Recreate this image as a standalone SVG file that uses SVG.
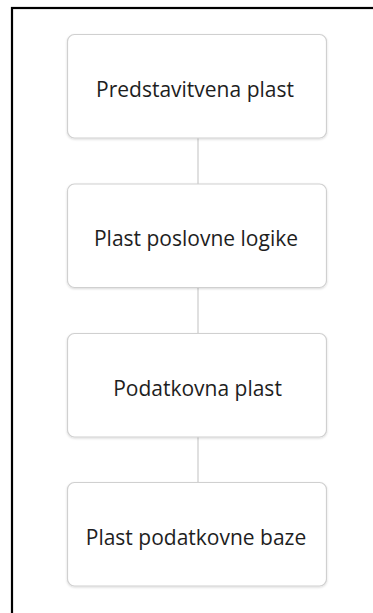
<svg xmlns="http://www.w3.org/2000/svg" width="373" height="613" viewBox="0 0 373 613">
<defs>
<style>
.box{fill:#ffffff;stroke:#d0d0d0;stroke-width:1.2;filter:url(#sh)}
.lbl{font-family:"Open Sans","Liberation Sans",sans-serif;font-size:21px;fill:#1e1e1e;text-anchor:middle}
.conn{stroke:#cccccc;stroke-width:1.2;fill:none}
</style>
<filter id="sh" x="-10%" y="-10%" width="120%" height="130%">
<feDropShadow dx="0" dy="1" stdDeviation="1.2" flood-color="#000" flood-opacity="0.15"/>
</filter>
</defs>
<rect x="0" y="0" width="373" height="613" fill="#ffffff"/>
<rect x="12" y="8" width="420" height="700" fill="none" stroke="#000000" stroke-width="2.2"/>
<g id="connectors">
<line class="conn" x1="198" y1="138" x2="198" y2="184"/>
<line class="conn" x1="198" y1="288" x2="198" y2="333"/>
<line class="conn" x1="198" y1="437" x2="198" y2="482"/>
</g>
<g id="node1">
<rect class="box" x="67.5" y="34.5" width="259" height="103.5" rx="7"/>
<text class="lbl" x="195" y="96.5">Predstavitvena plast</text>
</g>
<g id="node2">
<rect class="box" x="67.5" y="184" width="259" height="103.5" rx="7"/>
<text class="lbl" x="196" y="246">Plast poslovne logike</text>
</g>
<g id="node3">
<rect class="box" x="67.5" y="333.5" width="259" height="103.5" rx="7"/>
<text class="lbl" x="197.5" y="395.5">Podatkovna plast</text>
</g>
<g id="node4">
<rect class="box" x="67.5" y="482.5" width="259" height="103.5" rx="7"/>
<text class="lbl" x="196" y="544.5">Plast podatkovne baze</text>
</g>
</svg>
